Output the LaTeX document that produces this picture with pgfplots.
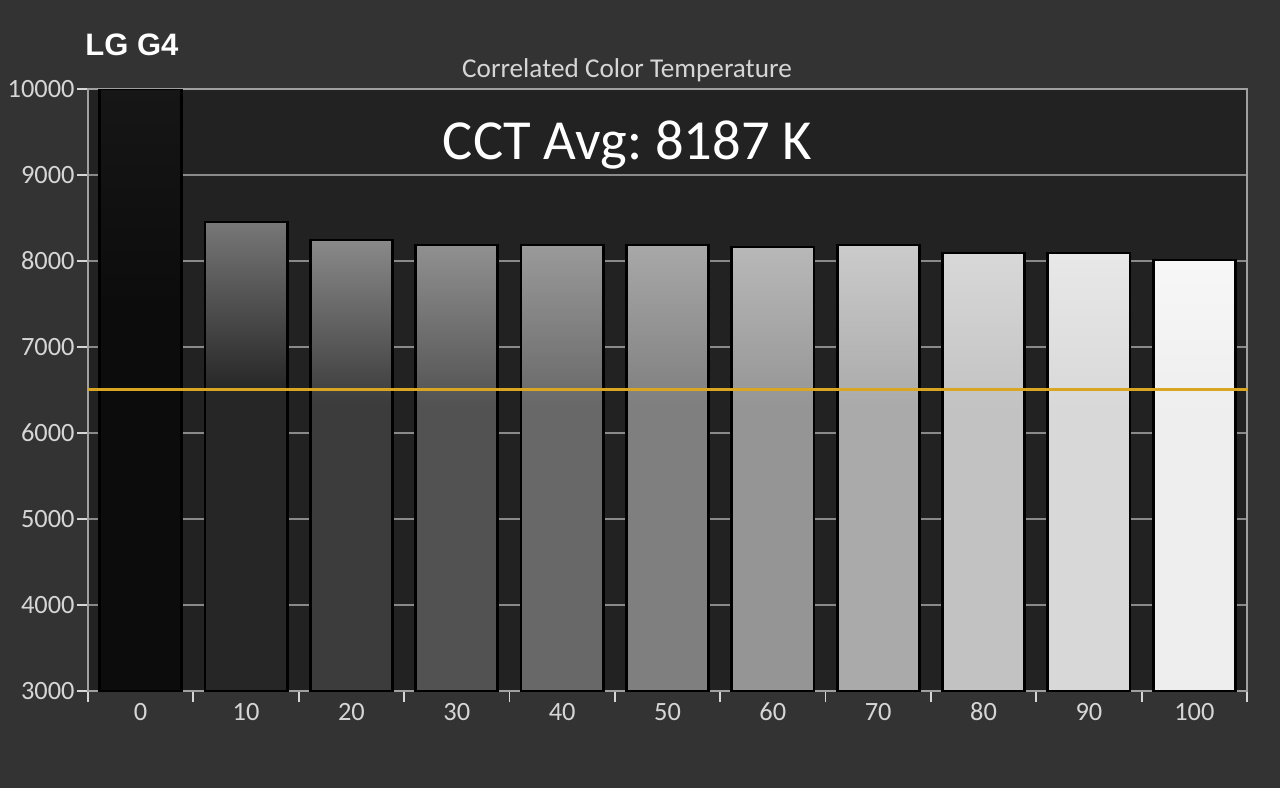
\documentclass[border=0pt]{standalone}
\usepackage{pgfplots}
\pgfplotsset{compat=1.18}
\usepackage{fontspec}
\setmainfont{Carlito}
\newfontfamily\arialf{Liberation Sans}
\definecolor{bgout}{HTML}{333333}
\definecolor{bgin}{HTML}{222222}
\definecolor{gridc}{HTML}{8A8A8A}
\definecolor{axc}{HTML}{A0A0A0}
\definecolor{labc}{HTML}{D6D6D6}
\definecolor{gold}{HTML}{DAA520}
\newcommand\mkshade[3]{%
  \definecolor{t#1}{HTML}{#2}\definecolor{b#1}{HTML}{#3}%
  \pgfdeclareverticalshading{bs#1}{100bp}{color(0bp)=(b#1); color(57bp)=(b#1); color(75bp)=(t#1); color(100bp)=(t#1)}}
\mkshade{0}{161616}{0C0C0C}
\mkshade{1}{777777}{262626}
\mkshade{2}{898989}{3C3C3C}
\mkshade{3}{909090}{525252}
\mkshade{4}{9A9A9A}{686868}
\mkshade{5}{A8A8A8}{7F7F7F}
\mkshade{6}{B8B8B8}{959595}
\mkshade{7}{CBCBCB}{AAAAAA}
\mkshade{8}{D8D8D8}{C2C2C2}
\mkshade{9}{E8E8E8}{D8D8D8}
\mkshade{10}{F7F7F7}{EEEEEE}
\pgfplotsset{cctbar/.style={ybar, bar width=0.78, bar shift=0pt, draw=black, line width=1.4pt, shade, shading=#1}}
\pagecolor{bgout}
\frenchspacing
\begin{document}
\begin{tikzpicture}[x=1pt,y=1pt]
\path (0,0) rectangle (640,394);
\begin{axis}[at={(44pt,48.5pt)}, anchor=south west, scale only axis,
  width=579.5pt, height=301pt,
  set layers,
  xmin=-0.5, xmax=10.5, ymin=3000, ymax=10000,
  axis background/.style={fill=bgin},
  axis line style={axc, line width=1.2pt, on layer=axis foreground},
  xtick pos=bottom, ytick pos=left,
  ytick={3000,4000,...,10000},
  scaled y ticks=false,
  ymajorgrids, grid style={gridc, line width=1pt},
  xtick={-0.5,0.5,...,10.5}, xticklabels={},
  extra x ticks={0,1,2,3,4,5,6,7,8,9,10},
  extra x tick labels={0,10,20,30,40,50,60,70,80,90,100},
  extra x tick style={major tick length=0pt, grid=none,
    xticklabel style={anchor=base, yshift=-14.5pt}},
  tick align=outside, major tick length=5.5pt,
  tick style={labc, line width=0.9pt},
  ticklabel style={font=\fontsize{13.2}{15}\selectfont, text=labc},
  yticklabel style={inner sep=1pt},
  /pgf/number format/assume math mode=true,
  /pgf/number format/1000 sep={},
]
\addplot[cctbar=bs0] coordinates {(0,10000)};
\addplot[cctbar=bs1] coordinates {(1,8453)};
\addplot[cctbar=bs2] coordinates {(2,8244)};
\addplot[cctbar=bs3] coordinates {(3,8186)};
\addplot[cctbar=bs4] coordinates {(4,8186)};
\addplot[cctbar=bs5] coordinates {(5,8186)};
\addplot[cctbar=bs6] coordinates {(6,8163)};
\addplot[cctbar=bs7] coordinates {(7,8186)};
\addplot[cctbar=bs8] coordinates {(8,8093)};
\addplot[cctbar=bs9] coordinates {(9,8093)};
\addplot[cctbar=bs10] coordinates {(10,8012)};
\addplot[gold, line width=1.3pt] coordinates {(-0.5,6504) (10.5,6504)};
\end{axis}
\node[anchor=base west, font=\arialf\bfseries\fontsize{15.5}{18}\selectfont, text=white, inner sep=0] at (42.5,366) {LG G4};
\node[anchor=base, font=\fontsize{13.6}{15}\selectfont, text=labc, inner sep=0] at (313.5,355) {Correlated Color Temperature};
\node[anchor=base, font=\fontsize{28.3}{32}\selectfont, text=white, inner sep=0] at (313.75,314) {CCT Avg: 8187 K};
\end{tikzpicture}
\end{document}
